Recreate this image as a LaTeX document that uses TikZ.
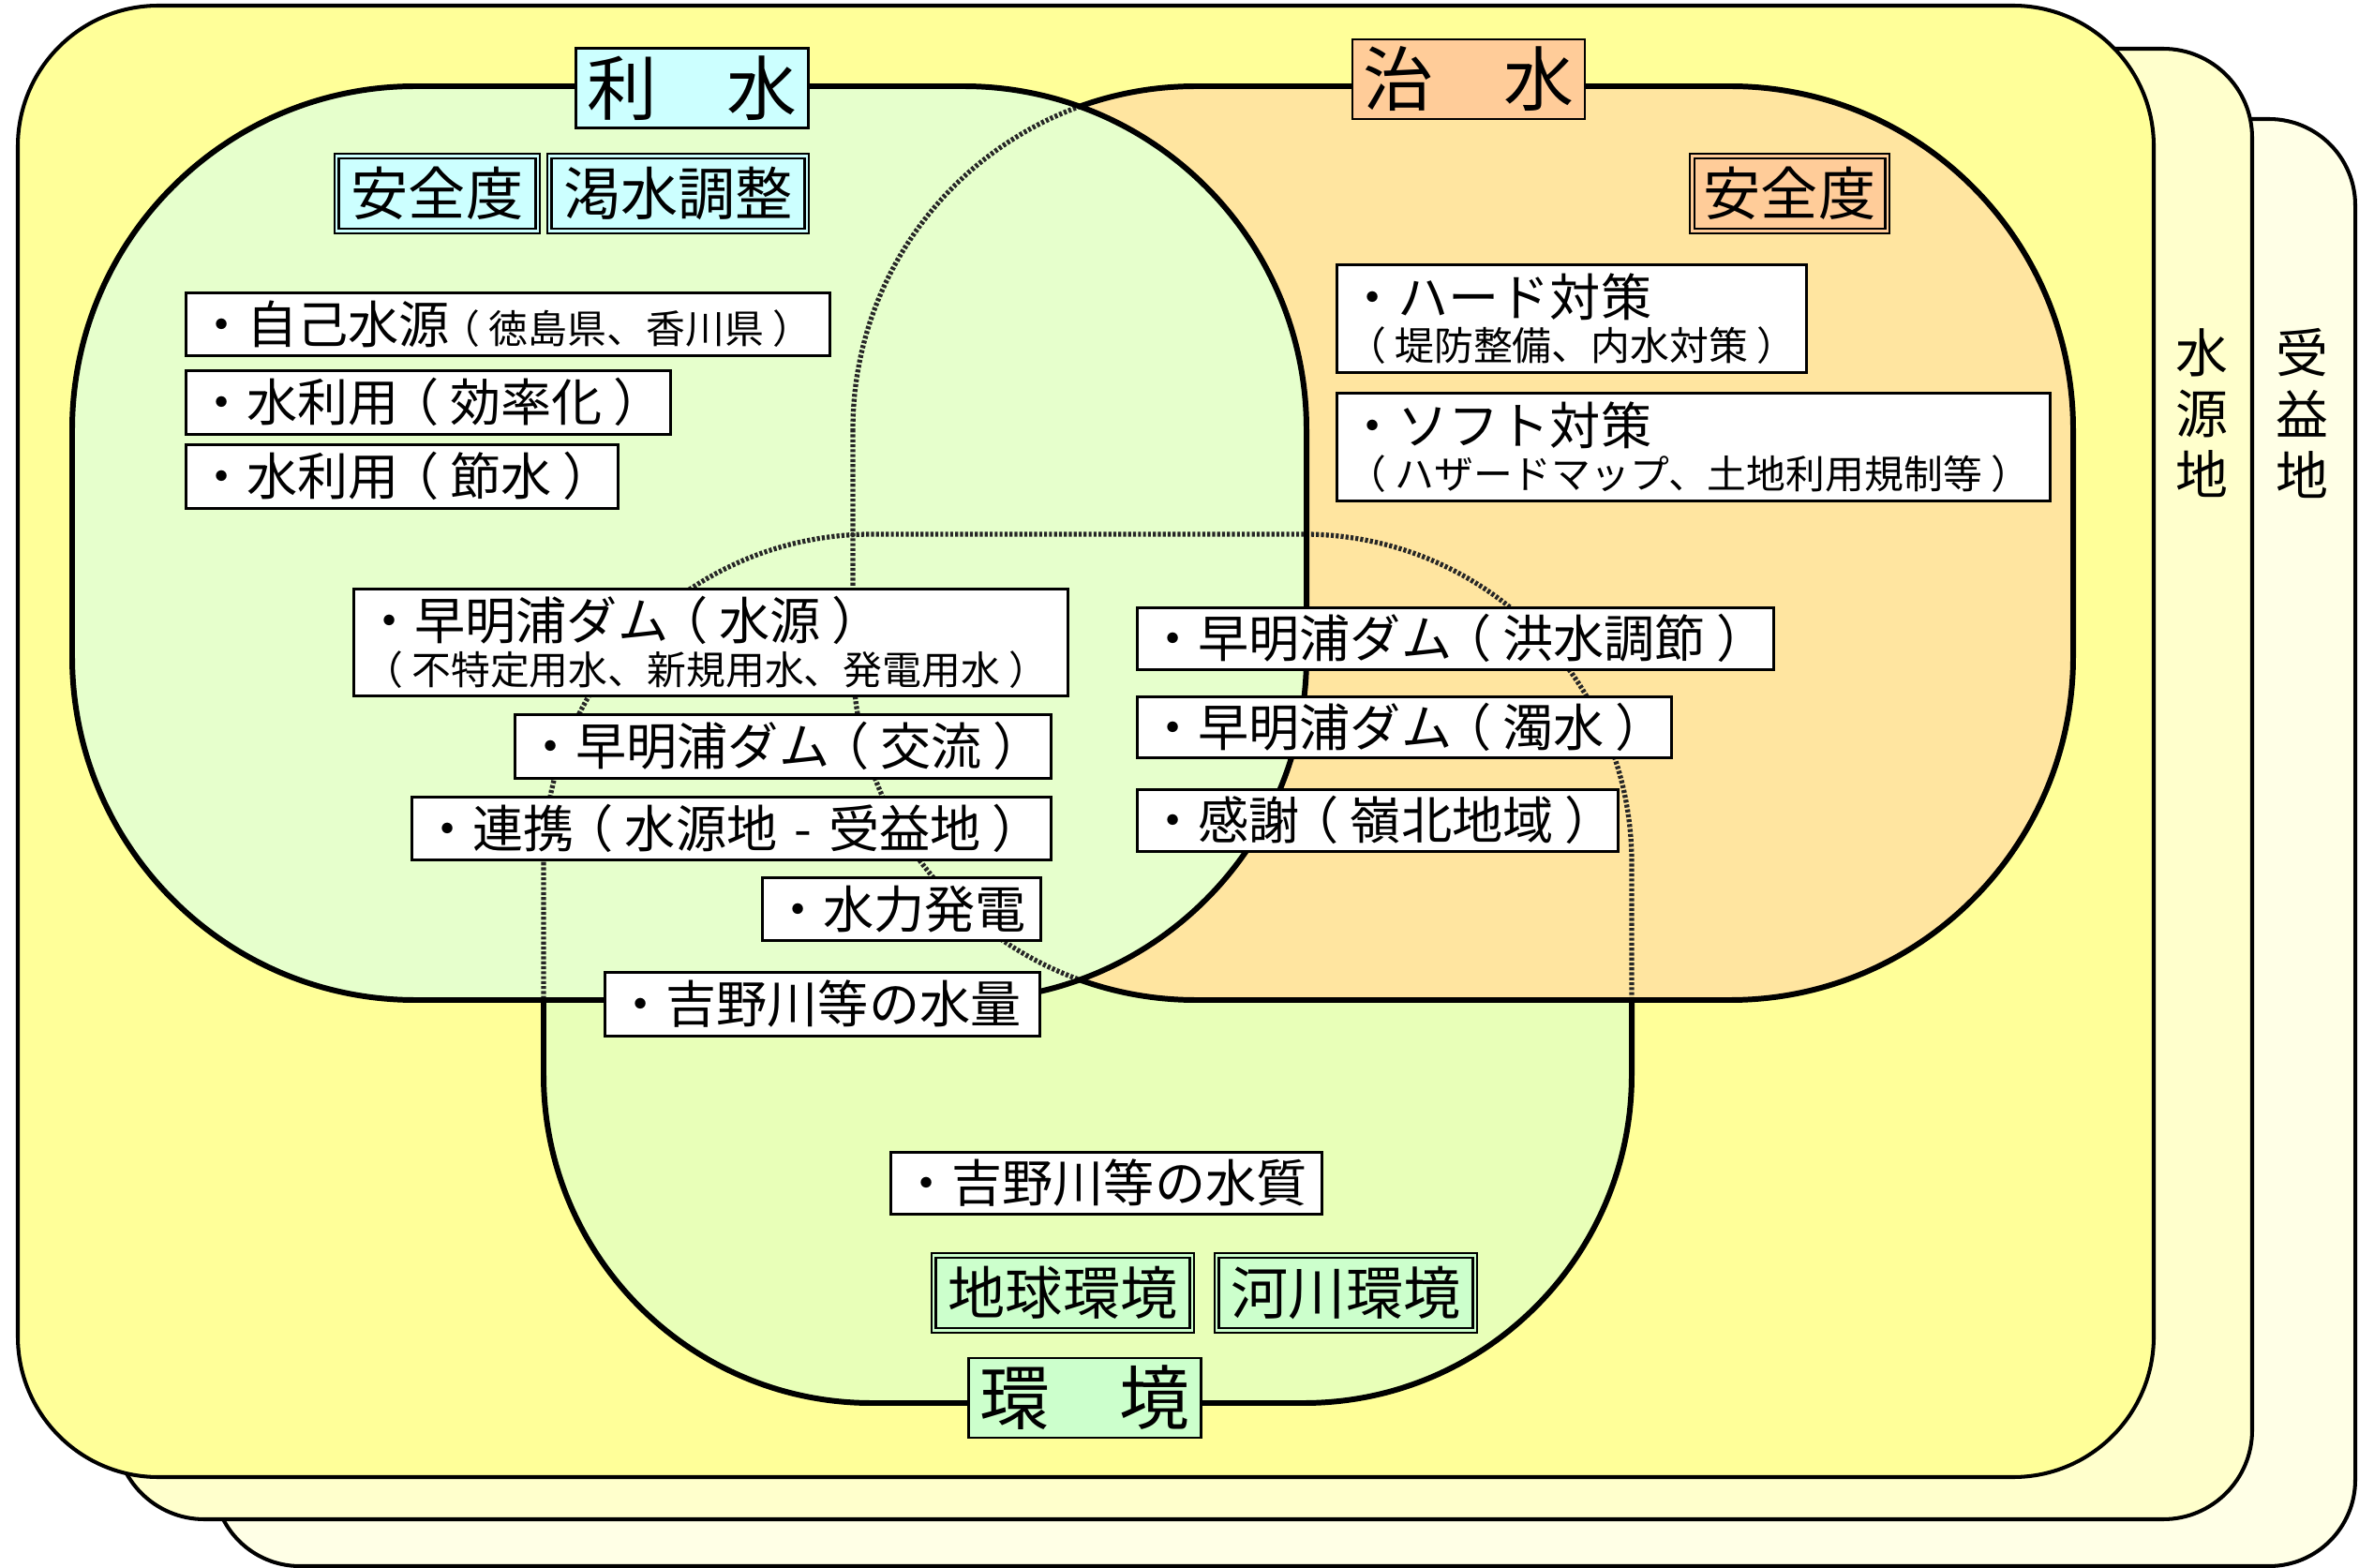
\documentclass[tikz,border=0pt]{standalone}
\usepackage{fontspec}
\setmainfont{Noto Sans CJK JP}
\definecolor{fronty}{HTML}{FFFF99}
\definecolor{midy}{HTML}{FFFFCC}
\definecolor{backy}{HTML}{FFFFE6}
\definecolor{rcol}{HTML}{E6FFCC}
\definecolor{ccol}{HTML}{FFE5A0}
\definecolor{kcol}{HTML}{E8FFB8}
\definecolor{rtag}{HTML}{CCFFFF}
\definecolor{ctag}{HTML}{FFCC99}
\definecolor{ktag}{HTML}{CCFFCC}
\newcommand\bigf{\fontsize{15.4pt}{16pt}\selectfont}
\newcommand\smf{\fontsize{11.9pt}{16pt}\selectfont}
\newcommand\lp{\kern-0.22em（\kern0.22em\relax}
\newcommand\rp{\kern0.22em）\kern-0.22em\relax}
\newcommand\Risui{(77,92) rectangle (1394,1067)}
\newcommand\Chisui{(910,92) rectangle (2212,1067)}
\newcommand\Kankyo{(580,570) rectangle (1741,1497)}
\tikzset{
  outerframe/.style={draw=black, line width=1.15pt},
  shapeline/.style={draw=black, line width=1.7pt},
  hatch/.style={draw=black!85, line width=1.5pt, dash pattern=on 0.9pt off 0.6pt},
  rr/.style={rounded corners=3.66cm},
  kr/.style={rounded corners=3.5cm},
  itembox/.style={draw=black, line width=0.75pt, fill=white, anchor=north west,
    inner xsep=0.11cm, inner ysep=0pt, align=left, font=\bigf},
  tagbox/.style={draw=black, line width=0.75pt, double distance=0.6pt, inner sep=0pt,
    align=center, minimum height=0.80cm, font=\fontsize{17.4pt}{18pt}\selectfont},
  titlebox/.style={draw=black, line width=0.7pt, inner sep=0pt, align=center,
    minimum width=2.48cm, minimum height=0.85cm, font=\fontsize{21.3pt}{22pt}\selectfont},
  vtext/.style={inner sep=0pt, align=center, font=\fontsize{15.9pt}{18.5pt}\selectfont},
}
\begin{document}
\begin{tikzpicture}[x=0.01cm,y=-0.01cm]
\useasboundingbox (0,0) rectangle (2517,1673);
% stacked frames
\fill[white] (0,0) rectangle (2517,1673);
\draw[outerframe, fill=backy, rounded corners=0.92cm] (228,127) rectangle (2513,1671);
\draw[outerframe, fill=midy, rounded corners=0.95cm] (123,52) rectangle (2403,1621);
\draw[outerframe, fill=fronty, rounded corners=1.5cm] (19,6) rectangle (2298,1576);
% environment shape
\fill[kcol, kr] \Kankyo;
\draw[shapeline, kr] \Kankyo;
% flood control shape
\fill[ccol, rr] \Chisui;
\begin{scope}
  \clip[rr] \Chisui;
  \draw[hatch, kr] \Kankyo;
\end{scope}
\draw[shapeline, rr] \Chisui;
% water use shape
\fill[rcol, rr] \Risui;
\begin{scope}
  \clip[rr] \Risui;
  \draw[hatch, kr] \Kankyo;
  \draw[hatch, rr] \Chisui;
\end{scope}
\draw[shapeline, rr] \Risui;
% titles
\node[titlebox, fill=rtag] (trisui) at (738.5,94) {利　水};
\node[titlebox, fill=ctag] (tchisui) at (1567,84.5) {治　水};
\node[titlebox, fill=ktag] (tkankyo) at (1157.5,1491.5) {環　境};
% tags
\node[tagbox, fill=rtag, double=rtag, minimum width=2.14cm] (tanzen1) at (466.5,206.5) {安全度};
\node[tagbox, fill=rtag, double=rtag, minimum width=2.74cm] (tkassui) at (723.5,206.5) {渇水調整};
\node[tagbox, fill=ctag, double=ctag, minimum width=2.08cm] (tanzen2) at (1909.5,206.5) {安全度};
\node[tagbox, fill=ktag, double=ktag, minimum width=2.75cm] (tchikyu) at (1134,1379.5) {地球環境};
\node[tagbox, fill=ktag, double=ktag, minimum width=2.75cm] (tkasen) at (1436,1379.5) {河川環境};
% items
\node[itembox, text width=6.65cm, minimum height=0.67cm] (jiko) at (197,311) {・自己水源{\smf \lp 徳島県、香川県\rp}};
\node[itembox, text width=4.95cm, minimum height=0.68cm] (kouritsu) at (197,394) {・水利用\lp 効率化\rp};
\node[itembox, text width=4.39cm, minimum height=0.68cm] (sessui) at (197,473) {・水利用\lp 節水\rp};
\node[itembox, text width=4.79cm, minimum height=1.15cm] (hard) at (1425,281) {・ハード対策\\{\smf \lp 堤防整備、内水対策\rp}};
\node[itembox, text width=7.39cm, minimum height=1.15cm] (soft) at (1425,418) {・ソフト対策\\{\smf \lp ハザードマップ、土地利用規制等\rp}};
\node[itembox, text width=7.40cm, minimum height=1.14cm] (suigen) at (376,627) {・早明浦ダム\lp 水源\rp\\{\smf \lp 不特定用水、新規用水、発電用水\rp}};
\node[itembox, text width=5.50cm, minimum height=0.68cm] (kouryu) at (548,761) {・早明浦ダム\lp 交流\rp};
\node[itembox, text width=6.60cm, minimum height=0.67cm] (renkei) at (438,849) {・連携\lp 水源地 - 受益地\rp};
\node[itembox, text width=2.75cm, minimum height=0.67cm] (suiryoku) at (812,935) {・水力発電};
\node[itembox, text width=4.42cm, minimum height=0.68cm] (suiryo) at (644,1036) {・吉野川等の水量};
\node[itembox, text width=6.57cm, minimum height=0.66cm] (kouzui) at (1212,647) {・早明浦ダム\lp 洪水調節\rp};
\node[itembox, text width=5.48cm, minimum height=0.65cm] (dakusui) at (1212,742) {・早明浦ダム\lp 濁水\rp};
\node[itembox, text width=4.91cm, minimum height=0.66cm] (kansha) at (1212,841) {・感謝\lp 嶺北地域\rp};
\node[itembox, text width=4.38cm, minimum height=0.66cm] (suishitsu) at (949,1228) {・吉野川等の水質};
% vertical labels
\node[vtext] (suigenchi) at (2349,441) {水\\源\\地};
\node[vtext] (juekichi) at (2456,441) {受\\益\\地};
\end{tikzpicture}
\end{document}
